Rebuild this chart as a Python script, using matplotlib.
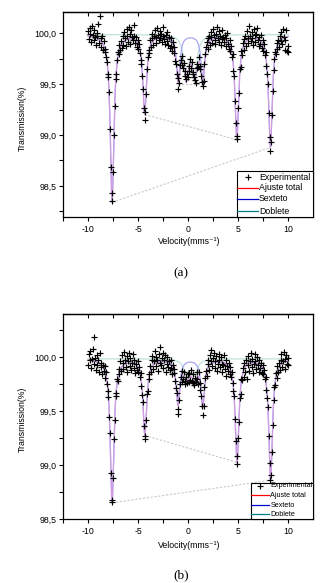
import numpy as np
import matplotlib
matplotlib.use('Agg')
import matplotlib.pyplot as plt
from matplotlib.ticker import MultipleLocator, FuncFormatter, FixedLocator
from matplotlib.patches import Rectangle

SANS = ['Liberation Sans', 'DejaVu Sans']
SERIF = ['Liberation Serif', 'DejaVu Serif']
plt.rcParams['font.family'] = SANS
plt.rcParams['font.size'] = 6.3

# ---------------- data ----------------
v_min, v_max = -10.0, 10.0   # velocity span of the channels (mm/s)

trans_a = [
    100.02, 99.94, 100.05, 99.99, 99.91, 100.07, 99.98, 99.93, 100.03, 99.96, 99.88, 100.00, 99.97, 100.09, 99.90, 100.17,
    99.95, 99.86, 99.97, 99.83, 99.92, 99.81, 99.84, 99.76, 99.72, 99.60, 99.57, 99.42, 99.06, 98.69, 98.43, 98.35,
    98.64, 99.00, 99.28, 99.55, 99.60, 99.74, 99.81, 99.79, 99.88, 99.83, 99.92, 99.85, 99.97, 99.88, 100.01, 99.95,
    99.87, 100.04, 99.97, 99.91, 100.06, 99.99, 99.89, 100.03, 99.96, 99.93, 100.08, 99.97, 99.90, 99.96, 99.86, 99.93,
    99.84, 99.89, 99.80, 99.74, 99.70, 99.58, 99.45, 99.26, 99.15, 99.23, 99.40, 99.65, 99.76, 99.83, 99.80, 99.93,
    99.86, 99.95, 99.99, 99.88, 99.97, 100.03, 99.96, 99.90, 100.05, 99.98, 99.93, 100.02, 99.95, 99.99, 99.91, 100.06,
    99.97, 99.94, 99.89, 99.98, 100.01, 99.92, 99.88, 99.96, 99.85, 99.95, 99.87, 99.82, 99.91, 99.80, 99.86, 99.73,
    99.70, 99.60, 99.56, 99.45, 99.51, 99.69, 99.74, 99.69, 99.77, 99.66, 99.71, 99.63, 99.58, 99.55, 99.60, 99.57,
    99.68, 99.63, 99.75, 99.66, 99.72, 99.60, 99.62, 99.57, 99.54, 99.51, 99.66, 99.70, 99.67, 99.76, 99.68, 99.65,
    99.58, 99.52, 99.48, 99.53, 99.70, 99.79, 99.86, 99.91, 99.84, 99.95, 99.97, 99.88, 100.01, 99.96, 99.90, 100.04,
    99.98, 99.93, 99.89, 99.99, 100.06, 99.95, 99.91, 100.02, 99.97, 99.88, 99.94, 100.03, 99.96, 99.91, 99.98, 99.87,
    99.95, 100.00, 99.89, 99.84, 99.93, 99.82, 99.87, 99.76, 99.79, 99.63, 99.58, 99.33, 99.12, 98.99, 98.96, 99.26,
    99.41, 99.65, 99.67, 99.82, 99.78, 99.90, 99.83, 99.94, 99.97, 99.87, 100.02, 99.95, 99.90, 100.07, 99.97, 99.92,
    100.01, 99.95, 99.88, 100.04, 99.98, 99.91, 99.99, 100.05, 99.93, 99.87, 99.96, 99.89, 99.98, 99.85, 99.93, 99.82,
    99.89, 99.78, 99.81, 99.68, 99.60, 99.50, 99.22, 98.98, 98.84, 98.93, 99.20, 99.43, 99.64, 99.75, 99.81, 99.79,
    99.90, 99.84, 99.93, 99.86, 99.97, 100.01, 99.92, 99.89, 100.04, 99.96, 99.83, 99.93, 100.03, 99.82, 99.87, 99.81,
]

trans_b = [
    99.93, 100.03, 99.97, 100.06, 99.90, 99.98, 100.08, 99.94, 100.19, 99.99, 99.88, 100.02, 99.93, 99.97, 99.86, 100.04,
    99.91, 99.95, 99.84, 99.93, 99.87, 99.92, 99.81, 99.86, 99.75, 99.69, 99.63, 99.45, 99.30, 98.93, 98.68, 98.66,
    98.88, 99.24, 99.42, 99.64, 99.67, 99.80, 99.78, 99.89, 99.84, 99.96, 99.87, 100.02, 99.95, 99.89, 100.05, 99.97,
    99.91, 100.01, 99.86, 99.96, 100.04, 99.92, 99.99, 99.88, 99.95, 100.03, 99.90, 99.97, 99.85, 99.94, 99.88, 99.96,
    99.86, 99.91, 99.82, 99.85, 99.73, 99.65, 99.58, 99.36, 99.24, 99.27, 99.42, 99.66, 99.69, 99.84, 99.80, 99.92,
    99.86, 99.97, 100.01, 99.89, 99.96, 100.06, 99.92, 100.00, 99.97, 99.87, 100.03, 99.95, 100.09, 99.93, 99.99, 100.04,
    99.90, 99.97, 100.02, 99.86, 99.94, 100.00, 99.91, 99.96, 99.88, 99.97, 99.90, 99.84, 99.93, 99.85, 99.89, 99.78,
    99.71, 99.67, 99.52, 99.47, 99.60, 99.75, 99.82, 99.77, 99.87, 99.80, 99.86, 99.78, 99.75, 99.82, 99.76, 99.84,
    99.77, 99.85, 99.79, 99.88, 99.78, 99.84, 99.76, 99.74, 99.81, 99.77, 99.86, 99.80, 99.75, 99.86, 99.76, 99.70,
    99.64, 99.55, 99.46, 99.55, 99.72, 99.81, 99.87, 99.83, 99.94, 99.97, 99.88, 100.02, 99.96, 100.07, 99.92, 99.99,
    100.04, 99.90, 99.96, 100.01, 99.87, 99.94, 100.03, 99.97, 99.91, 100.00, 99.94, 99.86, 99.93, 100.02, 99.89, 99.97,
    99.83, 99.92, 99.87, 99.95, 99.84, 99.91, 99.82, 99.86, 99.76, 99.69, 99.64, 99.43, 99.22, 99.08, 99.01, 99.25,
    99.40, 99.62, 99.66, 99.80, 99.79, 99.90, 99.82, 99.95, 99.86, 99.97, 99.80, 99.93, 100.01, 99.87, 99.96, 100.04,
    99.91, 99.98, 99.85, 99.94, 100.03, 99.96, 99.89, 100.00, 99.93, 99.86, 99.97, 99.90, 99.95, 99.85, 99.93, 99.84,
    99.88, 99.80, 99.82, 99.70, 99.62, 99.54, 99.27, 99.02, 98.86, 98.91, 99.12, 99.37, 99.60, 99.72, 99.74, 99.85,
    99.81, 99.92, 99.86, 99.95, 99.88, 99.97, 100.03, 99.91, 99.96, 100.05, 99.89, 99.98, 100.02, 99.94, 99.99, 99.93,
]

# fitted components (Lorentzian lines): positions (mm/s), depths (%), half widths
baseline_a = 99.985
sext_pos_a = [-7.60, -4.35, -1.00, 1.45, 4.85, 8.20]
sext_depth_a = [1.64, 0.77, 0.42, 0.42, 1.02, 1.10]
sext_hwhm_a = 0.22
doub_pos_a = [-0.20, 0.65]
doub_depth_a = [0.38, 0.38]
doub_hwhm_a = 0.30

baseline_b = 99.985
sext_pos_b = [-7.60, -4.33, -1.02, 1.45, 4.87, 8.22]
sext_depth_b = [1.33, 0.70, 0.40, 0.42, 0.95, 1.12]
sext_hwhm_b = 0.22
doub_pos_b = [-0.15, 0.60]
doub_depth_b = [0.14, 0.14]
doub_hwhm_b = 0.35

# pairs of sextet lines joined by the dotted guide lines
pairs_a = [(0, 5), (1, 4), (2, 3)]
pairs_b = [(0, 5), (1, 4)]

legend_labels = ['Experimental', 'Ajuste total', 'Sexteto', 'Doblete']
panel_labels = ['(a)', '(b)']
x_label = 'Velocity(mms\u207b\u00b9)'
y_label = 'Transmission(%)'
x_major = [-10, -5, 0, 5, 10]

# ---------------- drawing ----------------
W, H = 336, 583
fig = plt.figure(figsize=(W / 100, H / 100), dpi=100)


def lsum(v, pos, depth, w):
    v = np.asarray(v, dtype=float)
    out = np.zeros_like(v)
    for p, d in zip(pos, depth):
        out += d / (1.0 + ((v - p) / w) ** 2)
    return out


comma = FuncFormatter(lambda val, pos: f"{val:.1f}".replace('.', ','))
intfmt = FuncFormatter(lambda val, pos: f"{val:g}")


def panel(rect, trans, base, sp, sd, sw, dp, dd, dw, ylim, pairs, leg):
    ax = fig.add_axes(rect)
    v = np.linspace(v_min, v_max, len(trans))
    vf = np.linspace(v_min, v_max, 1601)
    sext = base - lsum(vf, sp, sd, sw)
    doub = base - lsum(vf, dp, dd, dw)
    total = base - lsum(vf, sp, sd, sw) - lsum(vf, dp, dd, dw)
    ax.plot(vf, doub, color='#bfe2db', lw=0.9, zorder=1)
    ax.plot(vf, sext, color='#a9a6f2', lw=0.9, zorder=2)
    ax.plot(vf, total, color='#cf9ddf', lw=0.9, zorder=3)
    for i, j in pairs:
        xs = [sp[i], sp[j]]
        ys = [base - lsum([x], sp, sd, sw)[0] - lsum([x], dp, dd, dw)[0] for x in xs]
        ax.plot(xs, ys, color='#c9c9c9', lw=0.8, ls=(0, (2, 1.5)), zorder=1.5)
    ax.plot(v, trans, ls='none', marker='+', ms=3.8, mew=0.85, color='black', zorder=4)

    ax.set_xlim(-12.5, 12.45)
    ax.set_ylim(*ylim)
    ax.xaxis.set_major_locator(FixedLocator(x_major))
    ax.xaxis.set_minor_locator(MultipleLocator(2.5))
    ax.xaxis.set_major_formatter(intfmt)
    ax.yaxis.set_major_locator(MultipleLocator(0.5))
    ax.yaxis.set_minor_locator(MultipleLocator(0.25))
    ax.yaxis.set_major_formatter(comma)
    ax.tick_params(which='both', direction='out', length=3, width=0.8,
                   top=False, right=False, labelsize=6.3, pad=1.5)
    ax.tick_params(axis='x', pad=2.5)
    for s in ax.spines.values():
        s.set_linewidth(0.9)
    sec = ax.secondary_xaxis('top')
    sec.set_xticks(np.arange(-10, 10.01, 2.5))
    sec.tick_params(direction='in', length=3, width=0.8, labeltop=False)
    sec.spines['top'].set_linewidth(0.9)

    # legend (drawn by hand to match the original box)
    x0, top, x_line0, x_line1, x_text, ys, fs = leg
    ax.add_patch(Rectangle((x0, 0), 1 - x0, top, transform=ax.transAxes,
                           facecolor='white', edgecolor='black', lw=0.8,
                           zorder=10, clip_on=False))
    colors = [None, '#ff0000', '#0000cc', '#008080']
    for k, (lab, c) in enumerate(zip(legend_labels, colors)):
        if c is None:
            ax.plot([(x_line0 + x_line1) / 2], [ys[k]], transform=ax.transAxes,
                    marker='+', ms=3.8, mew=0.85, color='black', ls='none',
                    zorder=11, clip_on=False)
        else:
            ax.plot([x_line0, x_line1], [ys[k], ys[k]], transform=ax.transAxes,
                    color=c, lw=0.9, zorder=11, clip_on=False)
        ax.text(x_text, ys[k], lab, transform=ax.transAxes, fontsize=fs,
                ha='left', va='center', zorder=12)
    return ax


ax_a = panel([63 / W, 1 - 217 / H, 250 / W, 205 / H], trans_a, baseline_a,
             sext_pos_a, sext_depth_a, sext_hwhm_a, doub_pos_a, doub_depth_a, doub_hwhm_a,
             (98.196, 100.206), pairs_a,
             (0.696, 0.224, 0.696, 0.78, 0.784, [0.195, 0.1415, 0.088, 0.029], 6.3))
ax_b = panel([63 / W, 1 - 519 / H, 250 / W, 205 / H], trans_b, baseline_b,
             sext_pos_b, sext_depth_b, sext_hwhm_b, doub_pos_b, doub_depth_b, doub_hwhm_b,
             (98.5, 100.4), pairs_b,
             (0.752, 0.176, 0.752, 0.824, 0.83, [0.161, 0.117, 0.068, 0.024], 5.2))

for yc, xl_y, pl_y, lab in [(118, 242, 273, panel_labels[0]), (419, 545, 575, panel_labels[1])]:
    fig.text(22 / W, 1 - yc / H, y_label, rotation=90, ha='center', va='center', fontsize=6.3)
    fig.text(189 / W, 1 - xl_y / H, x_label, ha='center', va='center', fontsize=6.3)
    fig.text(181 / W, 1 - pl_y / H, lab, ha='center', va='center', fontsize=9.5, family=SERIF)

fig.savefig('out.png', dpi=100)
